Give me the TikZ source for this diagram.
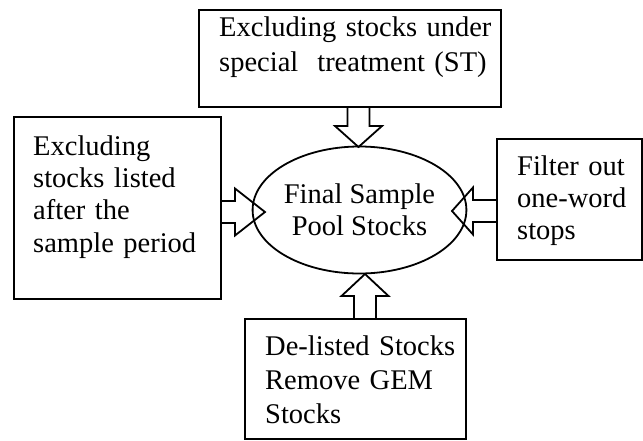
\documentclass[tikz,border=0pt]{standalone}
\usepackage{fontspec}
\setmainfont{Liberation Serif}
\usetikzlibrary{calc,shapes.geometric}
\tikzset{
  box/.style={draw, line width=1.8pt, rectangle, inner sep=0pt, anchor=north west},
  txt/.style={anchor=north west, align=left, inner sep=0pt, text width=300pt,
              font=\fontsize{28.5}{#1}\selectfont},
  flowarrow/.style={draw, line width=1.8pt, line join=miter},
}
% block arrow: base coordinate, tip coordinate, head length
\newcommand\blockarrow[3]{%
  \coordinate (ah) at ($(#2)!#3!(#1)$);
  \draw[flowarrow] ($(#1)!11pt!90:(#2)$) -- ($(ah)!11pt!90:(#2)$)
    -- ($(ah)!23.5pt!90:(#2)$) -- (#2) -- ($(ah)!23.5pt!-90:(#2)$)
    -- ($(ah)!11pt!-90:(#2)$) -- ($(#1)!11pt!-90:(#2)$);
}
\begin{document}
\begin{tikzpicture}[x=1pt,y=-1pt]
\path[use as bounding box] (0,0) rectangle (643,440);

% boxes
\node[box, minimum width=302pt, minimum height=97pt] (topbox) at (198,9) {};
\node[box, minimum width=207pt, minimum height=182pt] (leftbox) at (13,116) {};
\node[box, minimum width=145pt, minimum height=121pt] (rightbox) at (496,138) {};
\node[box, minimum width=221pt, minimum height=120pt] (botbox) at (244,318) {};

% box texts
\node[txt=35] (toptext) at (219,11.5) {\strut Excluding stocks under\\special\ \ treatment (ST)};
\node[txt=32.3] (lefttext) at (33,132.4) {\strut Excluding\\stocks listed\\after the\\sample period};
\node[txt=32] (righttext) at (517,152.6) {\strut Filter out\\one-word\\stops};
\node[txt=34] (bottext) at (265,331.2) {\strut De-listed Stocks\\Remove GEM\\Stocks};

% centre
\node[draw, ellipse, line width=1.8pt, minimum width=185pt, minimum height=127pt,
      inner sep=0pt, align=center, font=\fontsize{28.5}{32}\selectfont] (pool) at (359.5,210)
      {Final Sample\\Pool Stocks};

% arrow anchors
\coordinate (ta) at (358.5,106);  \coordinate (tb) at (358.5,147);
\coordinate (la) at (220,212);    \coordinate (lb) at (265,212);
\coordinate (ra) at (496,211);    \coordinate (rb) at (452,211);
\coordinate (ba) at (365,318);    \coordinate (bb) at (365,274);

\blockarrow{ta}{tb}{21pt}
\blockarrow{la}{lb}{30pt}
\blockarrow{ra}{rb}{21pt}
\blockarrow{ba}{bb}{22pt}
\end{tikzpicture}
\end{document}
